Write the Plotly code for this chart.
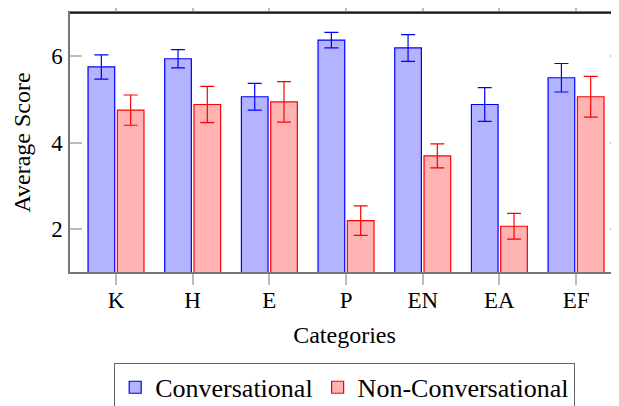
import plotly.graph_objects as go

categories = ["K", "H", "E", "P", "EN", "EA", "EF"]
conv_mean = [5.75, 5.94, 5.06, 6.37, 6.19, 4.88, 5.50]
conv_err = [0.28, 0.21, 0.31, 0.18, 0.31, 0.39, 0.33]
nonconv_mean = [4.75, 4.88, 4.94, 2.19, 3.69, 2.06, 5.06]
nonconv_err = [0.35, 0.42, 0.47, 0.34, 0.28, 0.30, 0.47]

FONT = "Liberation Serif, Times New Roman, serif"
FS = 23

fig = go.Figure()
fig.add_trace(go.Bar(
    name="Conversational", x=categories, y=conv_mean,
    marker=dict(color="rgb(179,179,255)", line=dict(color="#0000ff", width=1.2)),
    error_y=dict(type="data", array=conv_err, color="#0000ff", thickness=1.2, width=7),
))
fig.add_trace(go.Bar(
    name="Non-Conversational", x=categories, y=nonconv_mean,
    marker=dict(color="rgb(255,179,179)", line=dict(color="#ff0000", width=1.2)),
    error_y=dict(type="data", array=nonconv_err, color="#ff0000", thickness=1.2, width=7),
))
# invisible trace for right-side mirrored y ticks
fig.add_trace(go.Scatter(x=categories, y=conv_mean, yaxis="y2", mode="markers",
                         marker=dict(opacity=0), showlegend=False, hoverinfo="skip"))

fig.update_layout(
    width=611, height=398,
    margin=dict(l=62, r=0, t=5, b=134, autoexpand=False),
    paper_bgcolor="white", plot_bgcolor="white",
    font=dict(family=FONT, size=FS, color="black"),
    barmode="group", bargap=0.236, bargroupgap=0.09,
    xaxis=dict(
        range=[-0.6, 6.56], showgrid=False, zeroline=False,
        showline=True, linecolor="#777", linewidth=1.5, mirror="allticks",
        ticks="outside", ticklen=11, tickcolor="#bbb", tickwidth=1.5,
        tickfont=dict(size=FS), ticklabelstandoff=-4,
        title=dict(text="Categories", font=dict(size=24), standoff=14),
    ),
    yaxis=dict(
        range=[1, 7], tickvals=[2, 4, 6], showgrid=False, zeroline=False,
        showline=True, linecolor="#777", linewidth=1.5,
        ticks="inside", ticklen=12, tickcolor="#bbb", tickwidth=1.5,
        tickfont=dict(size=FS), ticklabelstandoff=1,
        title=dict(text="Average Score", font=dict(size=24), standoff=14),
    ),
    yaxis2=dict(
        overlaying="y", side="right", matches="y", range=[1, 7], tickvals=[2, 4, 6],
        showgrid=False, zeroline=False, showline=False, showticklabels=False,
        ticks="inside", ticklen=9, tickcolor="#bbb", tickwidth=1.5,
    ),
    legend=dict(
        orientation="h", x=0.5, xanchor="center", y=-0.350, yanchor="top",
        bordercolor="#666", borderwidth=1.2, font=dict(size=26),
        itemwidth=30, tracegroupgap=0,
    ),
)
# black top frame line
fig.add_shape(type="line", xref="paper", yref="paper", x0=0, x1=1, y0=1, y1=1,
              line=dict(color="black", width=1.5))

fig.write_html("out.html")
